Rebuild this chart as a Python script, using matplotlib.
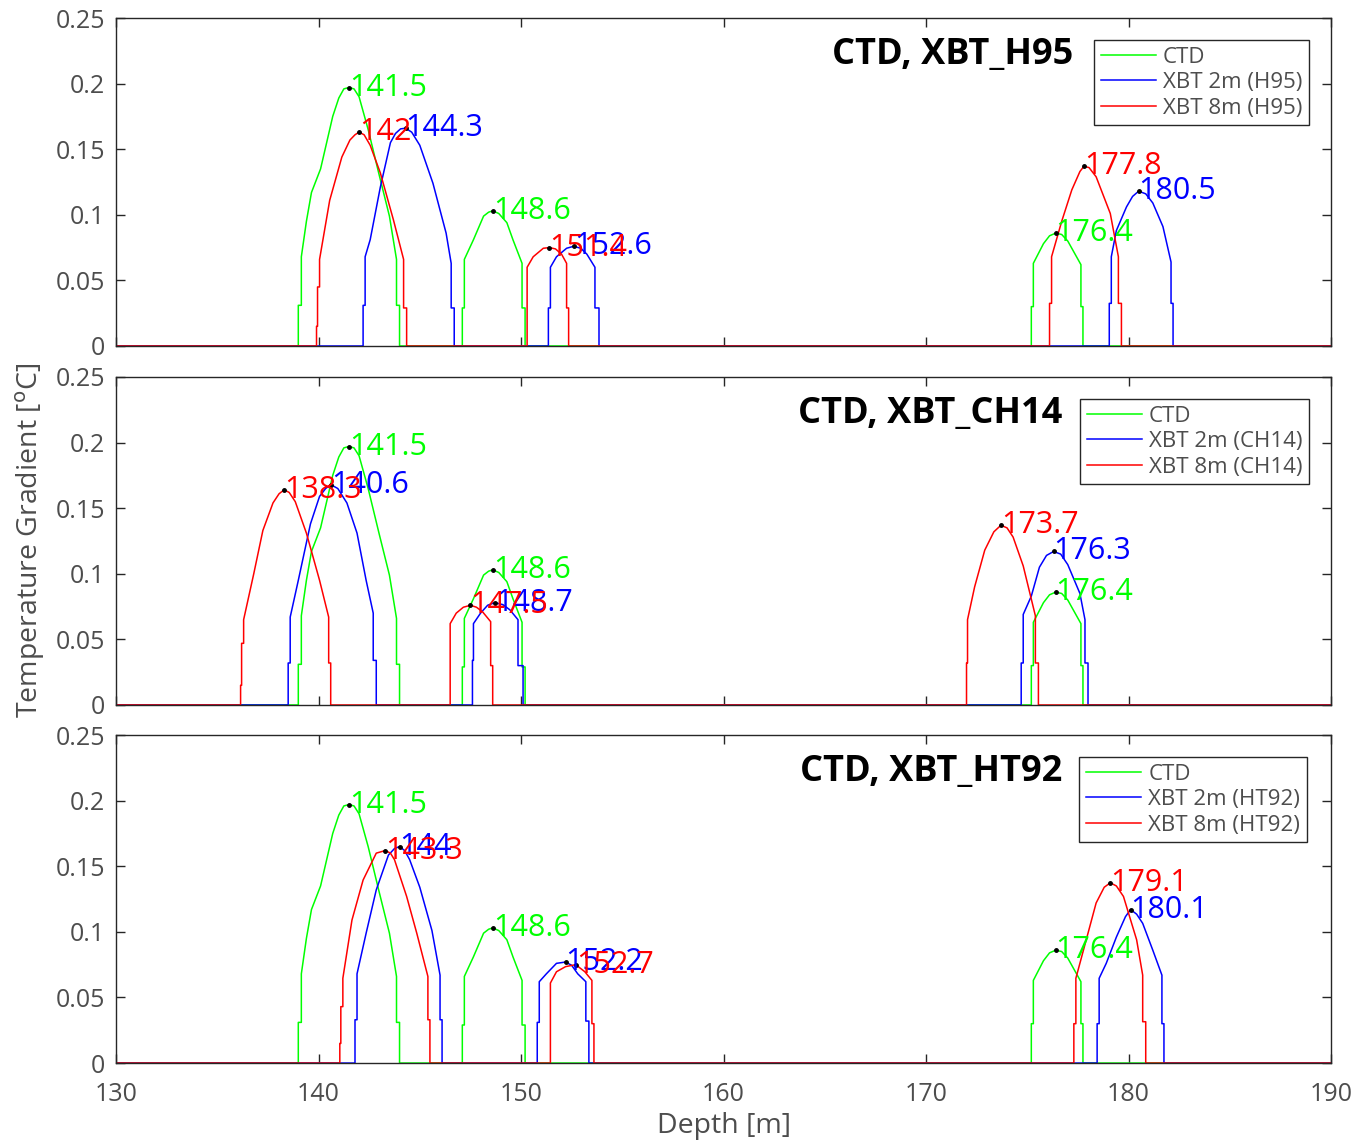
import matplotlib
matplotlib.use("Agg")
import matplotlib.pyplot as plt

plt.rcParams['font.family'] = ['Open Sans', 'DejaVu Sans']

# ---------------- data (depth [m], gradient [degC]) ----------------
# CTD (same in every panel)
ctd_d = [139.0, 139.0, 139.15, 139.15, 139.4, 139.65, 140.1, 140.7, 141.0, 141.25, 141.5, 141.75, 142.0, 142.45, 143.0, 143.5, 143.85, 143.85, 144.0, 144.0,
         147.1, 147.1, 147.2, 147.2, 147.65, 148.15, 148.4, 148.6, 148.9, 149.3, 149.6, 150.05, 150.05, 150.2, 150.2,
         175.2, 175.2, 175.3, 175.3, 175.8, 176.1, 176.4, 176.7, 177.0, 177.65, 177.65, 177.75, 177.75]
ctd_g = [0, 0.031, 0.031, 0.068, 0.095, 0.117, 0.135, 0.175, 0.189, 0.196, 0.197, 0.196, 0.190, 0.165, 0.13, 0.099, 0.066, 0.031, 0.031, 0,
         0, 0.029, 0.029, 0.066, 0.081, 0.099, 0.102, 0.103, 0.101, 0.094, 0.081, 0.063, 0.029, 0.029, 0,
         0, 0.030, 0.030, 0.063, 0.078, 0.084, 0.086, 0.085, 0.080, 0.062, 0.030, 0.030, 0]
ctd_pk_d = [141.5, 148.6, 176.4]
ctd_pk_g = [0.197, 0.103, 0.086]

# XBT_H95
h95_2m_d = [142.2, 142.2, 142.3, 142.3, 142.55, 143.05, 143.55, 143.8, 144.05, 144.3, 144.6, 145.0, 145.65, 146.3, 146.55, 146.55, 146.7, 146.7,
            151.35, 151.35, 151.45, 151.45, 151.75, 152.25, 152.6, 152.95, 153.25, 153.65, 153.65, 153.85, 153.85,
            179.05, 179.05, 179.15, 179.15, 179.4, 179.9, 180.2, 180.5, 180.85, 181.2, 181.7, 182.1, 182.1, 182.2, 182.2]
h95_2m_g = [0, 0.031, 0.031, 0.068, 0.081, 0.121, 0.155, 0.162, 0.1655, 0.166, 0.163, 0.153, 0.124, 0.086, 0.063, 0.029, 0.029, 0,
            0, 0.029, 0.029, 0.060, 0.068, 0.0745, 0.076, 0.0745, 0.070, 0.060, 0.029, 0.029, 0,
            0, 0.0325, 0.0325, 0.068, 0.088, 0.106, 0.114, 0.118, 0.116, 0.109, 0.091, 0.064, 0.0325, 0.0325, 0]
h95_2m_pk_d = [144.3, 152.6, 180.5]
h95_2m_pk_g = [0.166, 0.076, 0.118]

h95_8m_d = [139.9, 139.9, 139.95, 139.95, 140.05, 140.05, 140.55, 141.15, 141.55, 141.8, 142.0, 142.25, 142.55, 143.05, 143.7, 144.2, 144.2, 144.35, 144.35,
            150.3, 150.3, 150.6, 151.1, 151.4, 151.7, 152.0, 152.25, 152.25, 152.35, 152.35,
            176.1, 176.1, 176.2, 176.2, 176.7, 177.2, 177.6, 177.8, 178.05, 178.4, 179.1, 179.5, 179.5, 179.65, 179.65]
h95_8m_g = [0, 0.015, 0.015, 0.045, 0.045, 0.066, 0.111, 0.144, 0.157, 0.161, 0.163, 0.161, 0.153, 0.132, 0.096, 0.066, 0.029, 0.029, 0,
            0, 0.060, 0.068, 0.0745, 0.075, 0.074, 0.070, 0.063, 0.029, 0.029, 0,
            0, 0.0325, 0.0325, 0.068, 0.095, 0.119, 0.133, 0.137, 0.136, 0.129, 0.101, 0.068, 0.0325, 0.0325, 0]
h95_8m_pk_d = [142.0, 151.4, 177.8]
h95_8m_pk_g = [0.163, 0.075, 0.137]

# XBT_CH14
ch14_2m_d = [138.5, 138.5, 138.6, 138.6, 139.0, 139.6, 140.05, 140.35, 140.6, 140.95, 141.4, 141.9, 142.35, 142.7, 142.7, 142.85, 142.85,
             147.6, 147.6, 147.65, 147.65, 148.0, 148.35, 148.7, 149.1, 149.45, 149.85, 149.85, 150.1, 150.1,
             174.7, 174.7, 174.8, 174.8, 175.2, 175.6, 175.95, 176.3, 176.65, 177.0, 177.6, 177.85, 177.85, 178.0, 178.0]
ch14_2m_g = [0, 0.032, 0.032, 0.067, 0.095, 0.138, 0.159, 0.165, 0.168, 0.165, 0.154, 0.131, 0.095, 0.070, 0.034, 0.034, 0,
             0, 0.034, 0.034, 0.062, 0.070, 0.076, 0.078, 0.0765, 0.0725, 0.065, 0.030, 0.030, 0,
             0, 0.032, 0.032, 0.069, 0.083, 0.105, 0.114, 0.117, 0.115, 0.107, 0.085, 0.065, 0.032, 0.032, 0]
ch14_2m_pk_d = [140.6, 148.7, 176.3]
ch14_2m_pk_g = [0.168, 0.078, 0.117]

ch14_8m_d = [136.15, 136.15, 136.2, 136.2, 136.3, 136.3, 136.8, 137.25, 137.75, 138.05, 138.3, 138.55, 138.85, 139.4, 140.05, 140.5, 140.5, 140.6, 140.6,
             146.5, 146.5, 146.8, 147.15, 147.5, 147.8, 148.1, 148.5, 148.5, 148.6, 148.6,
             172.0, 172.0, 172.05, 172.05, 172.4, 172.9, 173.35, 173.7, 174.0, 174.3, 174.8, 175.4, 175.4, 175.55, 175.55]
ch14_8m_g = [0, 0.015, 0.015, 0.047, 0.047, 0.065, 0.100, 0.133, 0.154, 0.161, 0.164, 0.162, 0.155, 0.131, 0.095, 0.067, 0.032, 0.032, 0,
             0, 0.062, 0.070, 0.0745, 0.076, 0.0745, 0.071, 0.0635, 0.030, 0.030, 0,
             0, 0.032, 0.032, 0.065, 0.090, 0.118, 0.132, 0.137, 0.135, 0.128, 0.106, 0.068, 0.032, 0.032, 0]
ch14_8m_pk_d = [138.3, 147.5, 173.7]
ch14_8m_pk_g = [0.164, 0.076, 0.137]

# XBT_HT92
ht92_2m_d = [141.8, 141.8, 141.9, 141.9, 142.35, 142.85, 143.45, 143.75, 144.0, 144.25, 144.5, 145.0, 145.6, 146.0, 146.0, 146.1, 146.1,
             150.8, 150.8, 150.9, 150.9, 151.25, 151.75, 152.2, 152.5, 152.8, 153.2, 153.2, 153.35, 153.35,
             178.45, 178.45, 178.55, 178.55, 178.9, 179.4, 179.85, 180.1, 180.4, 180.7, 181.2, 181.65, 181.65, 181.75, 181.75]
ht92_2m_g = [0, 0.033, 0.033, 0.068, 0.099, 0.132, 0.1585, 0.1635, 0.165, 0.162, 0.155, 0.134, 0.101, 0.067, 0.033, 0.033, 0,
             0, 0.031, 0.031, 0.062, 0.068, 0.076, 0.077, 0.0745, 0.068, 0.062, 0.032, 0.032, 0,
             0, 0.030, 0.030, 0.0646, 0.076, 0.096, 0.1116, 0.117, 0.1135, 0.1065, 0.086, 0.067, 0.030, 0.030, 0]
ht92_2m_pk_d = [144.0, 152.2, 180.1]
ht92_2m_pk_g = [0.165, 0.077, 0.117]

ht92_8m_d = [141.05, 141.05, 141.1, 141.1, 141.2, 141.2, 141.65, 142.2, 142.85, 143.3, 143.55, 143.75, 144.35, 144.85, 145.4, 145.4, 145.5, 145.5,
             151.45, 151.45, 151.75, 152.2, 152.7, 153.15, 153.5, 153.5, 153.6, 153.6,
             177.3, 177.3, 177.4, 177.4, 178.0, 178.4, 178.8, 179.1, 179.4, 179.75, 180.4, 180.7, 180.7, 180.85, 180.85]
ht92_8m_g = [0, 0.015, 0.015, 0.043, 0.043, 0.0646, 0.109, 0.1395, 0.160, 0.162, 0.160, 0.155, 0.127, 0.099, 0.066, 0.033, 0.033, 0,
             0, 0.061, 0.0696, 0.0735, 0.075, 0.0696, 0.063, 0.030, 0.030, 0,
             0, 0.030, 0.030, 0.0646, 0.099, 0.122, 0.134, 0.1374, 0.135, 0.127, 0.094, 0.067, 0.0315, 0.0315, 0]
ht92_8m_pk_d = [143.3, 152.7, 179.1]
ht92_8m_pk_g = [0.162, 0.075, 0.137]

probes = ['H95', 'CH14', 'HT92']
xbt_2m = [(h95_2m_d, h95_2m_g, h95_2m_pk_d, h95_2m_pk_g),
          (ch14_2m_d, ch14_2m_g, ch14_2m_pk_d, ch14_2m_pk_g),
          (ht92_2m_d, ht92_2m_g, ht92_2m_pk_d, ht92_2m_pk_g)]
xbt_8m = [(h95_8m_d, h95_8m_g, h95_8m_pk_d, h95_8m_pk_g),
          (ch14_8m_d, ch14_8m_g, ch14_8m_pk_d, ch14_8m_pk_g),
          (ht92_8m_d, ht92_8m_g, ht92_8m_pk_d, ht92_8m_pk_g)]

# ---------------- figure ----------------
fig = plt.figure(figsize=(13.59, 11.4), dpi=100)
left, width, height = 0.0854, 0.894, 0.2877
bottoms = [0.6965, 0.3816, 0.0675]
title_x = [0.7877, 0.779, 0.779]
leg_x = [0.982, 0.982, 0.980]

grey = '0.15'


def full(d, g):
    # extend series to the plotted depth range with zeros
    return [130.0] + list(d) + [190.0], [0.0] + list(g) + [0.0]


for i, probe in enumerate(probes):
    ax = fig.add_axes([left, bottoms[i], width, height])
    series = [((ctd_d, ctd_g, ctd_pk_d, ctd_pk_g), (0, 1, 0), 'CTD'),
              (xbt_2m[i], (0, 0, 1), 'XBT 2m (%s)' % probe),
              (xbt_8m[i], (1, 0, 0), 'XBT 8m (%s)' % probe)]
    handles = []
    for (d, g, pd, pg), col, lab in series:
        x, y = full(d, g)
        h, = ax.plot(x, y, color=col, lw=1.1, label=lab)
        handles.append(h)
    for (d, g, pd, pg), col, lab in series:
        ax.plot(pd, pg, '.', color='k', ms=5, zorder=5)
        for px, py in zip(pd, pg):
            ax.text(px, py, '%g' % px, color=col, fontsize=22, ha='left', va='center', zorder=6)

    ax.set_xlim(130, 190)
    ax.set_ylim(0, 0.25)
    ax.set_yticks([0, 0.05, 0.1, 0.15, 0.2, 0.25])
    ax.set_yticklabels(['0', '0.05', '0.1', '0.15', '0.2', '0.25'])
    ax.set_xticks(range(130, 191, 10))
    ax.tick_params(direction='in', length=6.5, width=1, colors=grey, labelsize=18,
                   top=True, right=True, pad=8)
    ax.tick_params(axis='y', labelcolor='0.3')
    ax.tick_params(axis='x', labelcolor='0.3', pad=14)
    for s in ax.spines.values():
        s.set_color(grey)
        s.set_linewidth(1)
    if i < 2:
        ax.set_xticklabels([])
    else:
        ax.set_xlabel('Depth [m]', fontsize=20.5, color='0.3', labelpad=3)

    ax.text(title_x[i], 0.886, 'CTD, XBT_%s' % probe, transform=ax.transAxes,
            ha='right', va='center', fontsize=26, fontweight='bold')
    leg = ax.legend(handles=handles, loc='upper right', bbox_to_anchor=(leg_x[i], 0.933),
                    borderaxespad=0, fontsize=16, frameon=True, fancybox=False,
                    framealpha=1, edgecolor=grey, handlelength=2.5, borderpad=0.3,
                    labelspacing=0.2, handletextpad=0.3)
    leg.get_frame().set_linewidth(1)
    for t in leg.get_texts():
        t.set_color('0.3')

fig.text(0.022, 0.526, 'Temperature Gradient [$^\\mathrm{o}$C]', rotation=90,
         ha='center', va='center', fontsize=20.5, color='0.3')

fig.savefig('out.png', dpi=100)
